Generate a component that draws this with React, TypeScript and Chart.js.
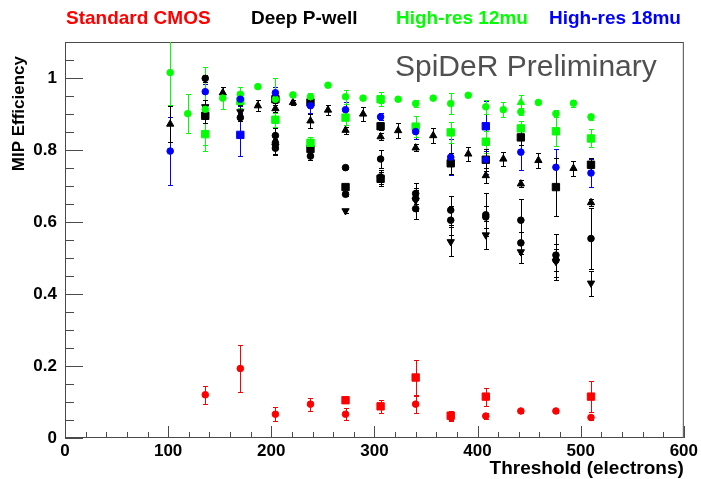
import React, { useEffect, useRef } from "react";
import { Chart, registerables } from "chart.js";

Chart.register(...registerables);

const FONT = '"Liberation Sans", Arial, Helvetica, sans-serif';

const RED = "#ff0000";
const BLACK = "#000000";
const GREEN = "#00ff00";
const BLUE = "#0000ff";

const legendLabels = ["Standard CMOS", "Deep P-well", "High-res 12mu", "High-res 18mu"];
const legendColors = [RED, BLACK, GREEN, BLUE];
const xTickValues = [0, 100, 200, 300, 400, 500, 600];
const yTickValues = [0, 0.2, 0.4, 0.6, 0.8, 1];

// Standard CMOS (red)
const cmosCircleX = [136, 170, 204, 238, 272, 340, 374, 408, 442, 476, 510];
const cmosCircleY = [0.12, 0.193, 0.066, 0.094, 0.066, 0.094, 0.058, 0.061, 0.075, 0.075, 0.057];
const cmosCircleErr = [0.025, 0.065, 0.02, 0.018, 0.016, 0.025, 0.012, 0.008, 0.005, 0.005, 0.008];
const cmosSquareX = [272, 306, 340, 374, 408, 510];
const cmosSquareY = [0.105, 0.088, 0.168, 0.062, 0.115, 0.115];
const cmosSquareErr = [0.006, 0.018, 0.05, 0.012, 0.025, 0.043];

// Deep P-well (black)
const pwellCircleX = [136, 170, 204, 204, 204, 238, 272, 272, 306, 306, 340, 340, 340, 374, 374, 408, 408, 442, 442, 476, 476, 510];
const pwellCircleY = [0.999, 0.89, 0.84, 0.82, 0.805, 0.783, 0.751, 0.677, 0.775, 0.725, 0.679, 0.665, 0.637, 0.633, 0.605, 0.62, 0.614, 0.605, 0.542, 0.508, 0.494, 0.554];
const pwellCircleErr = [0.01, 0.01, 0.02, 0.02, 0.02, 0.01, 0.005, 0.005, 0.025, 0.02, 0.03, 0.03, 0.03, 0.04, 0.04, 0.06, 0.03, 0.06, 0.03, 0.06, 0.03, 0.085];
const pwellSquareX = [136, 204, 238, 238, 272, 306, 306, 374, 408, 442, 476, 510];
const pwellSquareY = [0.895, 0.941, 0.932, 0.803, 0.697, 0.866, 0.72, 0.763, 0.773, 0.835, 0.697, 0.759];
const pwellSquareErr = [0.02, 0.01, 0.01, 0.01, 0.005, 0.01, 0.01, 0.03, 0.03, 0.02, 0.08, 0.02];
const pwellTriUpX = [102, 153, 187, 204, 221, 238, 255, 272, 289, 306, 323, 340, 357, 391, 408, 425, 442, 459, 493, 510];
const pwellTriUpY = [0.872, 0.959, 0.923, 0.915, 0.932, 0.881, 0.911, 0.855, 0.9, 0.837, 0.854, 0.806, 0.84, 0.789, 0.729, 0.775, 0.706, 0.771, 0.749, 0.654];
const pwellTriUpErr = [0.05, 0.017, 0.016, 0.01, 0.008, 0.02, 0.015, 0.01, 0.02, 0.01, 0.02, 0.01, 0.02, 0.02, 0.02, 0.02, 0.01, 0.02, 0.02, 0.01];
const pwellTriDownX = [136, 170, 204, 272, 306, 340, 374, 408, 442, 476, 510];
const pwellTriDownY = [0.92, 0.906, 0.81, 0.631, 0.72, 0.66, 0.545, 0.564, 0.517, 0.49, 0.43];
const pwellTriDownErr = [0.02, 0.02, 0.02, 0.005, 0.02, 0.03, 0.04, 0.04, 0.03, 0.05, 0.035];

// High-res 12mu (green)
const hr12CircleX = [102, 119, 136, 153, 170, 187, 204, 221, 238, 255, 272, 289, 306, 323, 340, 357, 374, 391, 408, 425, 442, 459, 476, 493, 510];
const hr12CircleY = [1.015, 0.901, 0.913, 0.944, 0.955, 0.976, 0.941, 0.953, 0.948, 0.98, 0.948, 0.944, 0.94, 0.941, 0.929, 0.944, 0.929, 0.952, 0.92, 0.912, 0.906, 0.932, 0.901, 0.93, 0.892];
const hr12CircleErr = [0.09, 0.054, 0.117, 0.03, 0.02, 0.005, 0.06, 0.005, 0.01, 0.005, 0.02, 0.005, 0.01, 0.005, 0.01, 0.005, 0.03, 0.005, 0.02, 0.02, 0.01, 0.005, 0.01, 0.01, 0.008];
const hr12SquareX = [136, 170, 204, 238, 272, 306, 340, 374, 408, 442, 476, 510];
const hr12SquareY = [0.844, 0.936, 0.884, 0.82, 0.89, 0.941, 0.865, 0.849, 0.823, 0.86, 0.852, 0.832];
const hr12SquareErr = [0.03, 0.02, 0.02, 0.015, 0.02, 0.02, 0.03, 0.03, 0.03, 0.02, 0.04, 0.025];
const hr12TriX = [442];
const hr12TriY = [0.932];
const hr12TriErr = [0.02];

// High-res 18mu (blue)
const hr18CircleX = [102, 136, 170, 204, 238, 272, 306, 340, 374, 408, 442, 476, 510];
const hr18CircleY = [0.797, 0.962, 0.941, 0.959, 0.923, 0.912, 0.892, 0.851, 0.78, 0.773, 0.794, 0.752, 0.736];
const hr18CircleErr = [0.095, 0.022, 0.02, 0.015, 0.02, 0.02, 0.01, 0.02, 0.05, 0.04, 0.05, 0.05, 0.04];
const hr18SquareX = [170, 408];
const hr18SquareY = [0.842, 0.866];
const hr18SquareErr = [0.06, 0.07];

type Style = "circle" | "rect" | "triangle" | "triangleDown";

function makeSet(label: string, color: string, style: Style, xs: number[], ys: number[], errs: number[]) {
  const radius = style === "circle" ? 3.3 : style === "rect" ? 5.2 : 4.2;
  return {
    label,
    data: xs.map((x, i) => ({ x, y: ys[i] })),
    errors: errs,
    showLine: false,
    borderColor: color,
    backgroundColor: color,
    pointBackgroundColor: color,
    pointBorderColor: color,
    pointBorderWidth: 1,
    pointStyle: style === "triangleDown" ? "triangle" : style,
    rotation: style === "triangleDown" ? 180 : 0,
    pointRadius: radius,
    pointHoverRadius: radius,
  };
}

const framePlugin = {
  id: "rootFrame",
  beforeDatasetsDraw(chart: any) {
    const { ctx, chartArea: a, scales } = chart;
    const xs = scales.x;
    const ys = scales.y;
    ctx.save();
    ctx.strokeStyle = "#4a4a4a";
    ctx.lineWidth = 1;
    ctx.strokeRect(a.left + 0.5, a.top + 0.5, a.right - a.left - 1, a.bottom - a.top - 1);
    ctx.beginPath();
    for (let i = 0; i <= 30; i++) {
      const px = Math.round(xs.getPixelForValue(i * 20)) + 0.5;
      const len = i % 5 === 0 ? 12 : 6;
      ctx.moveTo(px, a.bottom);
      ctx.lineTo(px, a.bottom - len);
    }
    for (let i = 0; i <= 22; i++) {
      const py = Math.round(ys.getPixelForValue(i * 0.05)) + 0.5;
      const len = i % 4 === 0 ? 18 : 9;
      ctx.moveTo(a.left, py);
      ctx.lineTo(a.left + len, py);
    }
    ctx.stroke();
    ctx.restore();
  },
};

const errorBarPlugin = {
  id: "errorBars",
  beforeDatasetsDraw(chart: any) {
    const { ctx, chartArea: a, scales } = chart;
    const xs = scales.x;
    const ys = scales.y;
    ctx.save();
    ctx.beginPath();
    ctx.rect(a.left, a.top, a.right - a.left, a.bottom - a.top);
    ctx.clip();
    ctx.lineWidth = 1;
    chart.data.datasets.forEach((ds: any) => {
      const errs: number[] = ds.errors;
      if (!errs) return;
      ctx.strokeStyle = ds.borderColor;
      ctx.beginPath();
      ds.data.forEach((p: any, j: number) => {
        const e = errs[j];
        if (!e) return;
        const px = Math.round(xs.getPixelForValue(p.x)) + 0.5;
        const y1 = Math.round(ys.getPixelForValue(p.y + e)) + 0.5;
        const y2 = Math.round(ys.getPixelForValue(p.y - e)) + 0.5;
        ctx.moveTo(px, y1);
        ctx.lineTo(px, y2);
        ctx.moveTo(px - 2.5, y1);
        ctx.lineTo(px + 2.5, y1);
        ctx.moveTo(px - 2.5, y2);
        ctx.lineTo(px + 2.5, y2);
      });
      ctx.stroke();
    });
    ctx.restore();
  },
};

const legendX = [66, 251, 396, 549];

const textPlugin = {
  id: "rootText",
  afterDraw(chart: any) {
    const { ctx, chartArea: a } = chart;
    ctx.save();
    ctx.textBaseline = "alphabetic";
    ctx.textAlign = "left";
    ctx.font = `bold 19px ${FONT}`;
    legendLabels.forEach((t, i) => {
      ctx.fillStyle = legendColors[i];
      ctx.fillText(t, legendX[i], 24);
    });
    ctx.font = `30px ${FONT}`;
    ctx.fillStyle = "#505050";
    ctx.fillText("SpiDeR Preliminary", 395, 76);
    ctx.font = `bold 19px ${FONT}`;
    ctx.fillStyle = "#000";
    ctx.textAlign = "right";
    ctx.fillText("Threshold (electrons)", a.right, 474);
    ctx.font = `bold 17px ${FONT}`;
    ctx.translate(24, 56);
    ctx.rotate(-Math.PI / 2);
    ctx.fillText("MIP Efficiency", 0, 0);
    ctx.restore();
  },
};

export default function App() {
  const ref = useRef<HTMLCanvasElement | null>(null);

  useEffect(() => {
    if (!ref.current) return;
    const datasets = [
      makeSet("High-res 18mu", BLUE, "circle", hr18CircleX, hr18CircleY, hr18CircleErr),
      makeSet("High-res 18mu", BLUE, "rect", hr18SquareX, hr18SquareY, hr18SquareErr),
      makeSet("High-res 12mu", GREEN, "circle", hr12CircleX, hr12CircleY, hr12CircleErr),
      makeSet("High-res 12mu", GREEN, "rect", hr12SquareX, hr12SquareY, hr12SquareErr),
      makeSet("High-res 12mu", GREEN, "triangle", hr12TriX, hr12TriY, hr12TriErr),
      makeSet("Deep P-well", BLACK, "circle", pwellCircleX, pwellCircleY, pwellCircleErr),
      makeSet("Deep P-well", BLACK, "rect", pwellSquareX, pwellSquareY, pwellSquareErr),
      makeSet("Deep P-well", BLACK, "triangle", pwellTriUpX, pwellTriUpY, pwellTriUpErr),
      makeSet("Deep P-well", BLACK, "triangleDown", pwellTriDownX, pwellTriDownY, pwellTriDownErr),
      makeSet("Standard CMOS", RED, "circle", cmosCircleX, cmosCircleY, cmosCircleErr),
      makeSet("Standard CMOS", RED, "rect", cmosSquareX, cmosSquareY, cmosSquareErr),
    ];
    const chart = new Chart(ref.current, {
      type: "scatter",
      data: { datasets: datasets as any },
      plugins: [framePlugin, errorBarPlugin, textPlugin],
      options: {
        animation: false,
        responsive: false,
        devicePixelRatio: 1,
        layout: { padding: { top: 42, right: 16, left: 0, bottom: 0 } },
        plugins: { legend: { display: false }, tooltip: { enabled: false }, title: { display: false } },
        scales: {
          x: {
            type: "linear",
            min: 0,
            max: 600,
            afterFit: (s: any) => { s.height = 41; },
            afterBuildTicks: (s: any) => { s.ticks = xTickValues.map((v) => ({ value: v })); },
            grid: { display: false, drawTicks: false },
            border: { display: false },
            ticks: {
              padding: 3,
              maxRotation: 0,
              autoSkip: false,
              color: "#000",
              font: { family: FONT, size: 17, weight: "bold" },
              callback: (v: any) => String(v),
            },
          },
          y: {
            type: "linear",
            min: 0,
            max: 1.1,
            afterFit: (s: any) => { s.width = 65; },
            afterBuildTicks: (s: any) => { s.ticks = yTickValues.map((v) => ({ value: v })); },
            grid: { display: false, drawTicks: false },
            border: { display: false },
            ticks: {
              padding: 8,
              autoSkip: false,
              color: "#000",
              font: { family: FONT, size: 17, weight: "bold" },
              callback: (v: any) => (v === 0 ? "0" : v === 1 ? "1" : Number(v).toFixed(1)),
            },
          },
        },
      } as any,
    });
    return () => chart.destroy();
  }, []);

  return (
    <div style={{ position: "absolute", left: 0, top: 0, width: 701, height: 479, background: "#fff" }}>
      <canvas ref={ref} width={701} height={479} style={{ display: "block" }} />
    </div>
  );
}
